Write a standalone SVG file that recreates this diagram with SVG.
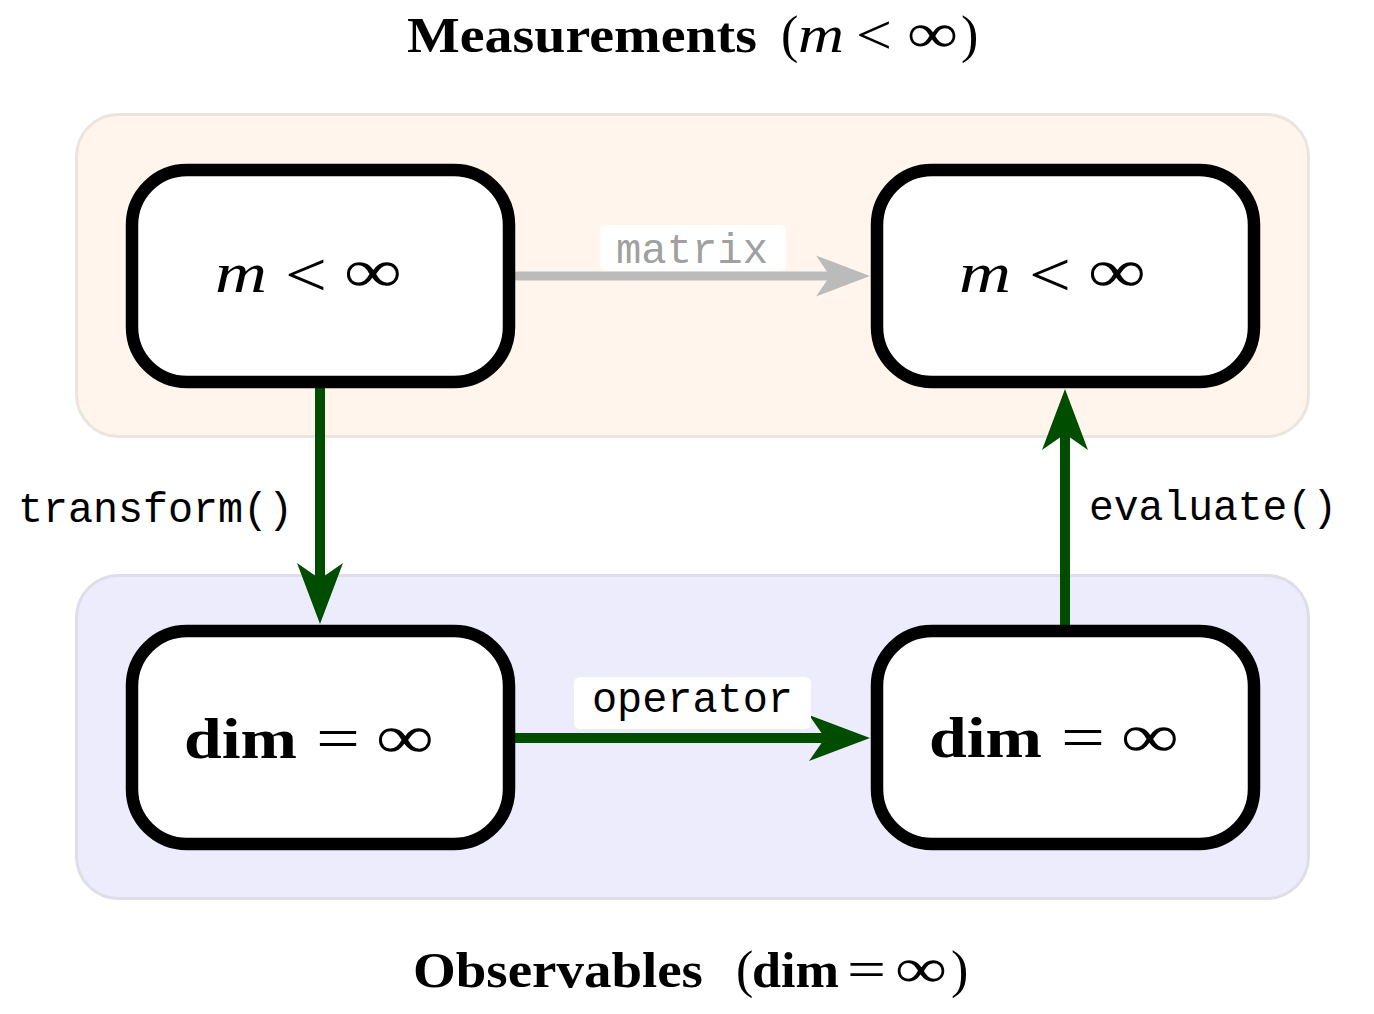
<svg xmlns="http://www.w3.org/2000/svg" width="1374" height="1014" viewBox="0 0 1374 1014">
<style>
.grp-top{fill:#fff5ec;stroke:#ebe5e0;stroke-width:3}
.grp-bot{fill:#ececfd;stroke:#dedde8;stroke-width:3}
.node{fill:#ffffff;stroke:#000000;stroke-width:12.5}
.serif{font-family:"Liberation Serif","DejaVu Serif",serif;fill:#000}
.it{font-style:italic}
.bf{font-weight:bold}
.mono{font-family:"Liberation Mono","DejaVu Sans Mono",monospace;font-size:42px}
.green{stroke:#004d00;stroke-width:10;fill:none}
.gray{stroke:#bbbbbb;stroke-width:9;fill:none}
.lbl{fill:#ffffff}
</style>
<defs>
<path id="ghead" d="M0,0 L-61,-23 L-45,0 L-61,23 Z" fill="#004d00"/>
<path id="grhead" d="M0,0 L-54,-20.5 L-40,0 L-54,20.5 Z" fill="#bbbbbb"/>
</defs>

<g id="group-measurements">
<rect class="grp-top" x="76.5" y="114.5" width="1232" height="322" rx="42"/>
</g>
<g id="group-observables">
<rect class="grp-bot" x="76.5" y="575.5" width="1232" height="323" rx="42"/>
</g>

<g id="title-top" class="serif">
<text x="407" y="52" font-size="50" class="bf" textLength="350" lengthAdjust="spacingAndGlyphs">Measurements</text>
<text x="781" y="52" font-size="52">(</text>
<text x="798" y="52" font-size="52" class="it" textLength="46" lengthAdjust="spacingAndGlyphs">m</text>
<text x="856" y="54" font-size="56" textLength="36" lengthAdjust="spacingAndGlyphs">&lt;</text>
<text x="907" y="52" font-size="56" textLength="51" lengthAdjust="spacingAndGlyphs">∞</text>
<text x="961" y="52" font-size="52">)</text>
</g>
<g id="title-bottom" class="serif">
<text x="413" y="987" font-size="50" class="bf" textLength="290" lengthAdjust="spacingAndGlyphs">Observables</text>
<text x="736" y="987" font-size="52">(</text>
<text x="752" y="987" font-size="50" class="bf" textLength="87" lengthAdjust="spacingAndGlyphs">dim</text>
<text x="847" y="987" font-size="52" textLength="39" lengthAdjust="spacingAndGlyphs">=</text>
<text x="895" y="987" font-size="56" textLength="52" lengthAdjust="spacingAndGlyphs">∞</text>
<text x="951" y="987" font-size="52">)</text>
</g>

<g id="connectors">
<g id="edge-matrix">
<line class="gray" x1="515" y1="276" x2="835" y2="276"/>
<use href="#grhead" transform="translate(870,276)"/>
<rect class="lbl" x="600" y="225" width="186" height="46" rx="6"/>
<text class="mono" x="616" y="263" fill="#a0a0a0" textLength="152" lengthAdjust="spacingAndGlyphs">matrix</text>
</g>
<g id="edge-transform">
<line class="green" x1="320" y1="388" x2="320" y2="590"/>
<use href="#ghead" transform="translate(320,624) rotate(90)"/>
<text class="mono" x="18" y="522" fill="#000" textLength="275" lengthAdjust="spacingAndGlyphs">transform()</text>
</g>
<g id="edge-operator">
<line class="green" x1="515" y1="738" x2="835" y2="738"/>
<use href="#ghead" transform="translate(870,738)"/>
<rect class="lbl" x="574" y="677" width="237" height="52" rx="6"/>
<text class="mono" x="592" y="712" fill="#000" textLength="201" lengthAdjust="spacingAndGlyphs">operator</text>
</g>
<g id="edge-evaluate">
<line class="green" x1="1065" y1="627" x2="1065" y2="425"/>
<use href="#ghead" transform="translate(1065,389) rotate(-90)"/>
<text class="mono" x="1089" y="520" fill="#000" textLength="248" lengthAdjust="spacingAndGlyphs">evaluate()</text>
</g>
</g>

<g id="node-m1" class="serif">
<rect class="node" x="132" y="170" width="377" height="212" rx="55"/>
<text x="215" y="292" font-size="58" class="it" textLength="52" lengthAdjust="spacingAndGlyphs">m</text>
<text x="285" y="296" font-size="64" textLength="42" lengthAdjust="spacingAndGlyphs">&lt;</text>
<text x="344" y="292" font-size="62" textLength="58" lengthAdjust="spacingAndGlyphs">∞</text>
</g>
<g id="node-m2" class="serif">
<rect class="node" x="877" y="170" width="377" height="212" rx="55"/>
<text x="959" y="292" font-size="58" class="it" textLength="52" lengthAdjust="spacingAndGlyphs">m</text>
<text x="1029" y="296" font-size="64" textLength="42" lengthAdjust="spacingAndGlyphs">&lt;</text>
<text x="1088" y="292" font-size="62" textLength="58" lengthAdjust="spacingAndGlyphs">∞</text>
</g>
<g id="node-dim1" class="serif">
<rect class="node" x="132" y="631" width="377" height="213" rx="55"/>
<text x="184" y="758" font-size="58" class="bf" textLength="113" lengthAdjust="spacingAndGlyphs">dim</text>
<text x="316" y="758" font-size="60" textLength="44" lengthAdjust="spacingAndGlyphs">=</text>
<text x="376" y="758" font-size="62" textLength="58" lengthAdjust="spacingAndGlyphs">∞</text>
</g>
<g id="node-dim2" class="serif">
<rect class="node" x="877" y="631" width="377" height="213" rx="55"/>
<text x="929" y="757" font-size="58" class="bf" textLength="113" lengthAdjust="spacingAndGlyphs">dim</text>
<text x="1061" y="757" font-size="60" textLength="44" lengthAdjust="spacingAndGlyphs">=</text>
<text x="1121" y="757" font-size="62" textLength="58" lengthAdjust="spacingAndGlyphs">∞</text>
</g>
</svg>
